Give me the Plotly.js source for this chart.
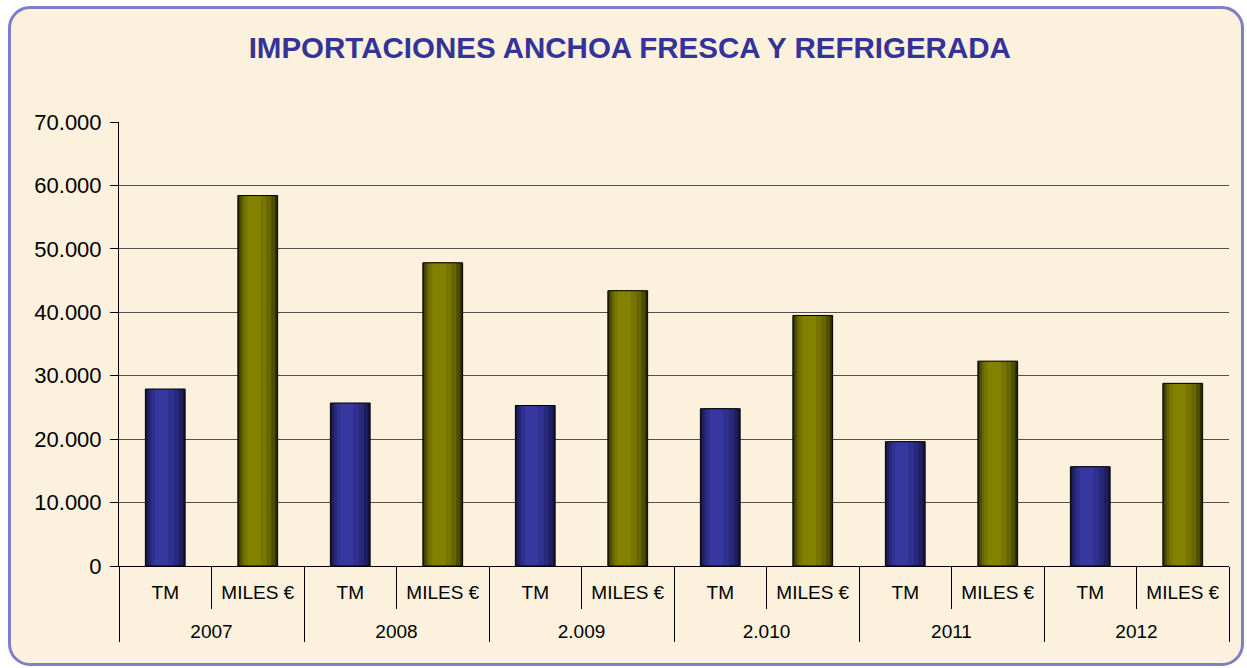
<!DOCTYPE html>
<html>
<head>
<meta charset="utf-8">
<script src="https://cdn.plot.ly/plotly-3.0.1.min.js"></script>
<style>
  html, body { margin:0; padding:0; background:#ffffff; width:1247px; height:668px; overflow:hidden; }
  #frame { position:absolute; left:8px; top:6px; width:1230px; height:654px; border:3px solid #7d80c6; border-radius:22px; background:#fcf1dc; }
  #chart { position:absolute; left:0; top:0; width:1247px; height:668px; }
</style>
</head>
<body>
<div id="frame"></div>
<div id="chart"></div>
<script>
// ---- data ----
const years = ['2007', '2008', '2.009', '2.010', '2011', '2012'];
const seriesNames = ['TM', 'MILES €'];
const tmValues = [27900, 25700, 25300, 24800, 19600, 15650];
const milesValues = [58400, 47800, 43400, 39500, 32300, 28800];
const yTicks = [0, 10000, 20000, 30000, 40000, 50000, 60000, 70000];

// ---- styling ----
const FONT = '"Liberation Sans", Arial, sans-serif';
const barW = 0.43;
// shading layers (offset fraction, width fraction, color) to mimic cylinder gradient
const blueLayers = [[0, 1, '#141440'], [0.04, 0.9, '#1f1f60'], [0.1, 0.74, '#29297c'], [0.16, 0.56, '#303091'], [0.24, 0.34, '#36379f']];
const oliveLayers = [[0, 1, '#2a2a00'], [0.04, 0.9, '#4d4c00'], [0.1, 0.74, '#666500'], [0.16, 0.56, '#767500'], [0.24, 0.34, '#838200']];

function layersFor(name, values, layers) {
  const x = [years, years.map(() => name + '<br>\u00a0')];
  const traces = layers.map(([o, w, c]) => ({
    type: 'bar', x: x, y: values, name: name,
    offset: -barW / 2 + o * barW, width: w * barW,
    marker: { color: c, line: { width: 0 } },
    showlegend: false, hoverinfo: 'skip'
  }));
  traces.push({
    type: 'bar', x: x, y: values, name: name,
    offset: -barW / 2, width: barW,
    marker: { color: 'rgba(0,0,0,0)', line: { color: '#000000', width: 1 } },
    showlegend: false
  });
  return traces;
}

// establish category order: year groups with TM then MILES €
const orderX = [[], []];
years.forEach(yr => seriesNames.forEach(s => { orderX[0].push(yr); orderX[1].push(s + '<br>\u00a0'); }));
const orderTrace = { type: 'bar', x: orderX, y: orderX[0].map(() => 0), marker: { color: 'rgba(0,0,0,0)' }, showlegend: false, hoverinfo: 'skip' };

const data = [orderTrace]
  .concat(layersFor(seriesNames[0], tmValues, blueLayers))
  .concat(layersFor(seriesNames[1], milesValues, oliveLayers));

const layout = {
  width: 1247, height: 668,
  paper_bgcolor: 'rgba(0,0,0,0)', plot_bgcolor: 'rgba(0,0,0,0)',
  margin: { l: 119, r: 18, t: 122, b: 102 },
  separators: ',.',
  barmode: 'overlay',
  font: { family: FONT, color: '#000000' },
  title: {
    text: 'IMPORTACIONES ANCHOA FRESCA Y REFRIGERADA',
    font: { family: FONT, size: 29.5, color: '#333399', weight: 'bold' },
    x: 0.505, xanchor: 'center', y: 0.928, yanchor: 'middle', xref: 'container', yref: 'container'
  },
  xaxis: {
    type: 'multicategory',
    showgrid: false,
    showline: true, linecolor: '#000000', linewidth: 1,
    ticks: 'outside', tickson: 'boundaries', ticklen: 42, tickcolor: '#000000', tickwidth: 1,
    ticklabelstandoff: 9,
    showdividers: true, dividercolor: '#000000', dividerwidth: 1,
    tickfont: { family: FONT, size: 19, color: '#000000' }
  },
  yaxis: {
    range: [0, 70000],
    tickvals: yTicks, tickformat: ',d',
    ticklabelstandoff: 4,
    showgrid: true, gridcolor: '#505050', gridwidth: 1,
    zeroline: false,
    showline: true, linecolor: '#000000', linewidth: 1,
    ticks: 'outside', ticklen: 8, tickcolor: '#000000',
    tickfont: { family: FONT, size: 22, color: '#000000' }
  }
};

Plotly.newPlot('chart', data, layout, { displayModeBar: false, staticPlot: true });
</script>
</body>
</html>
